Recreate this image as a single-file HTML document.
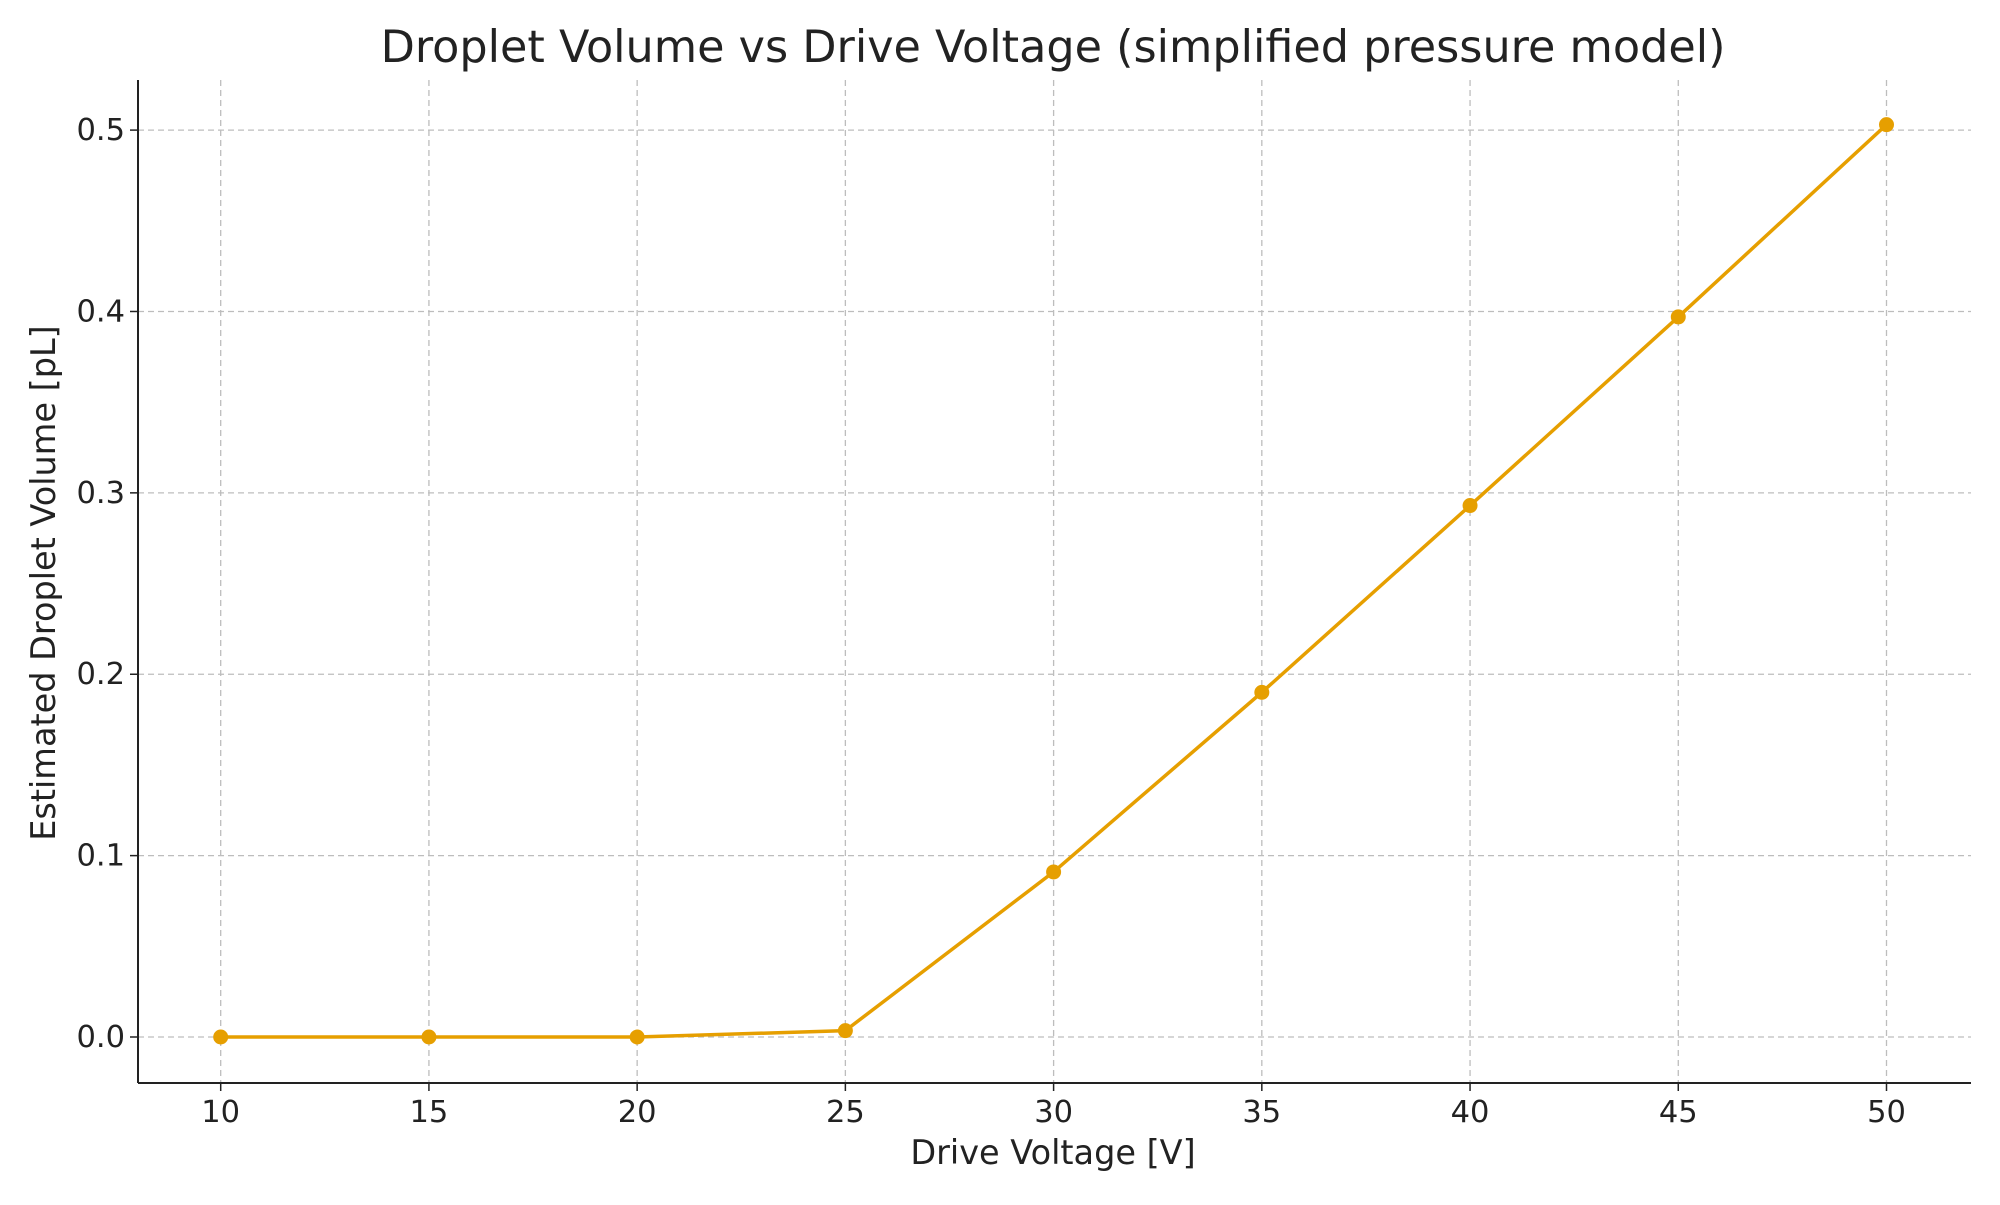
<!DOCTYPE html>
<html><head><meta charset="utf-8"><style>
html,body{margin:0;padding:0;background:#fff;}
svg text{font-family:"DejaVu Sans","Liberation Sans",sans-serif;fill:#222;}
</style></head><body>
<svg id="chart" width="2000" height="1200" xmlns="http://www.w3.org/2000/svg">
<rect width="2000" height="1200" fill="#fff"/>
<text x="1053" y="62" font-size="44.5" text-anchor="middle" fill="#333">Droplet Volume vs Drive Voltage (simplified pressure model)</text>
<g id="grid"></g><g id="axes"></g><g id="series"></g>
<text x="1053" y="1164" font-size="33.5" text-anchor="middle">Drive Voltage [V]</text>
<text transform="translate(55,583) rotate(-90)" font-size="33.5" text-anchor="middle">Estimated Droplet Volume [pL]</text>
</svg>
<script>
const voltages=[10,15,20,25,30,35,40,45,50];
const volumes=[0,0,0,0.0035,0.091,0.190,0.293,0.397,0.503];
const xTicks=[10,15,20,25,30,35,40,45,50];
const yTicks=[0.0,0.1,0.2,0.3,0.4,0.5];
const yTickLabels=["0.0","0.1","0.2","0.3","0.4","0.5"];
const NS="http://www.w3.org/2000/svg";
const L=138,R=1971,T=80,B=1083;
const xs=v=>220.7+(v-10)*(1886.5-220.7)/40;
const ys=v=>1037-v*(1037-130.1)/0.5;
function mk(tag,attrs,parent){const e=document.createElementNS(NS,tag);for(const k in attrs)e.setAttribute(k,attrs[k]);parent.appendChild(e);return e;}
const grid=document.getElementById('grid'),axes=document.getElementById('axes'),ser=document.getElementById('series');
xTicks.forEach(t=>{
 const g=mk('line',{x1:xs(t),x2:xs(t),y1:T,y2:B,stroke:'#bdbdbd','stroke-width':1.3,'stroke-dasharray':'6,4'},grid);
 
 
 const tk=mk('line',{x1:xs(t),x2:xs(t),y1:B,y2:B+8,stroke:'#222','stroke-width':1.5},axes);
 
 
 const tx=mk('text',{x:xs(t),y:B+39,'font-size':30.5,'text-anchor':'middle'},axes);tx.textContent=t;
 
 
});
yTicks.forEach((t,i)=>{
 const g=mk('line',{x1:L,x2:R,y1:ys(t),y2:ys(t),stroke:'#bdbdbd','stroke-width':1.3,'stroke-dasharray':'6,4'},grid);
 
 
 const tk=mk('line',{x1:L-8,x2:L,y1:ys(t),y2:ys(t),stroke:'#222','stroke-width':1.5},axes);
 
 
 const tx=mk('text',{x:L-13,y:ys(t)+10,'font-size':30.5,'text-anchor':'end'},axes);tx.textContent=yTickLabels[i];
 
 
});
const la=mk('line',{x1:L,x2:L,y1:T,y2:B,stroke:'#222','stroke-width':2},axes);


const ba=mk('line',{x1:L,x2:R,y1:B,y2:B,stroke:'#222','stroke-width':2},axes);


const pl=mk('polyline',{points:voltages.map((v,i)=>xs(v)+','+ys(volumes[i])).join(' '),fill:'none',stroke:'#E69F00','stroke-width':3.5},ser);


voltages.forEach((v,i)=>{
 const c=mk('circle',{cx:xs(v),cy:ys(volumes[i]),r:7.5,fill:'#E69F00'},ser);
 
 
});
</script>
</body></html>
